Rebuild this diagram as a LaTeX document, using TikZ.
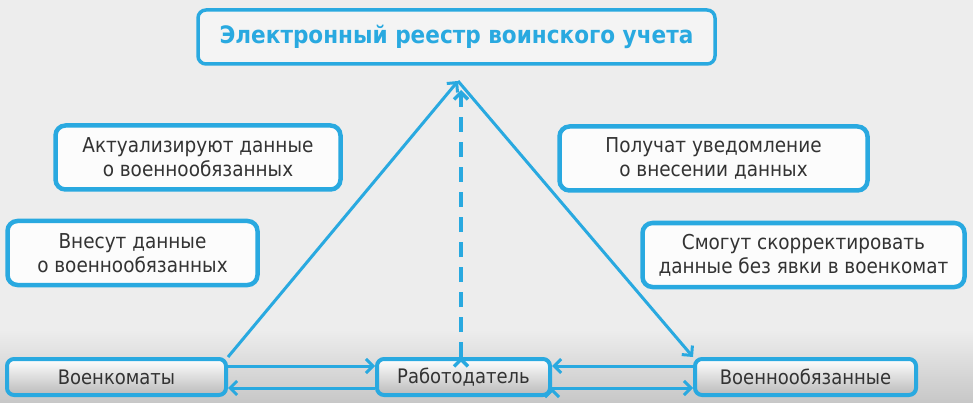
\documentclass[tikz,border=0pt]{standalone}
\usepackage{fontspec}
\setmainfont{DejaVu Sans Condensed}
\usetikzlibrary{positioning,arrows.meta}
\definecolor{regblue}{HTML}{29A9E0}
\definecolor{bggray}{HTML}{EDEDED}
\definecolor{txtgray}{HTML}{333333}
\tikzset{title node/.style={rectangle, rounded corners=8pt, draw=regblue, line width=3.5pt, fill=bggray!60!white, minimum width=517pt, minimum height=54pt, inner sep=0pt, font=\fontsize{24}{28}\selectfont\bfseries, text=regblue}, }
\tikzset{note node/.style={rectangle, rounded corners=10pt, draw=regblue, line width=4.5pt, fill=white!85!bggray, minimum height=64pt, inner sep=0pt, align=center, font=\fontsize{20.5}{24}\selectfont, text=txtgray}, }
\tikzset{party node/.style={rectangle, rounded corners=7pt, draw=regblue, line width=4pt, top color=white, bottom color=black!27, minimum width=219pt, minimum height=36pt, inner sep=0pt, font=\fontsize{20}{24}\selectfont, text=txtgray}, }
\tikzset{link/.style={draw=regblue, line width=3pt, -{Straight Barb[length=7pt,width=14pt]}}, }

\begin{document}
\begin{tikzpicture}[x=1pt,y=-1pt]
	\useasboundingbox (0,0) rectangle (973,403);
	\fill[bggray] (0,0) rectangle (973,403);
	\shade[top color=bggray, bottom color=black!22] (0,330) rectangle (973,403);
	\node[title node] (reg) at (456.5,37) {Электронный реестр воинского учета};
	\node[note node, minimum width=285pt] (upd) at (198,157.5) {Актуализируют данные\\о военнообязанных};
	\node[note node, minimum width=250pt] (enter) at (132.5,253) {Внесут данные\\о военнообязанных};
	\node[note node, minimum width=308pt] (notify) at (713.5,158.5) {Получат уведомление\\о внесении данных};
	\node[note node, minimum width=322pt] (fix) at (803.5,255) {Смогут скорректировать\\данные без явки в военкомат};
	\node[party node] (vk) at (116.5,377) {Военкоматы};
	\node[party node, minimum width=173pt] (rab) [right = 147pt of vk] {Работодатель};
	\node[party node, minimum width=221pt] (vo) [right = 141pt of rab] {Военнообязанные};
	\coordinate (apex) at (458,81);
	\coordinate (dashtip) at (461,90);
	\path[link]
		(vk.north east) edge (apex)
		(apex) edge (vo.north west)
		([yshift=11pt]vk.east) edge ([yshift=11pt]rab.west)
		([yshift=-11pt]rab.west) edge ([yshift=-11pt]vk.east)
		([yshift=11pt]vo.west) edge ([yshift=11pt]rab.east)
		([yshift=-11pt]rab.east) edge ([yshift=-11pt]vo.west)
		;
	\path[link, line width=3.5pt, dash pattern=on 15pt off 10pt] (rab.north -| dashtip) edge (dashtip);
\end{tikzpicture}
\end{document}
